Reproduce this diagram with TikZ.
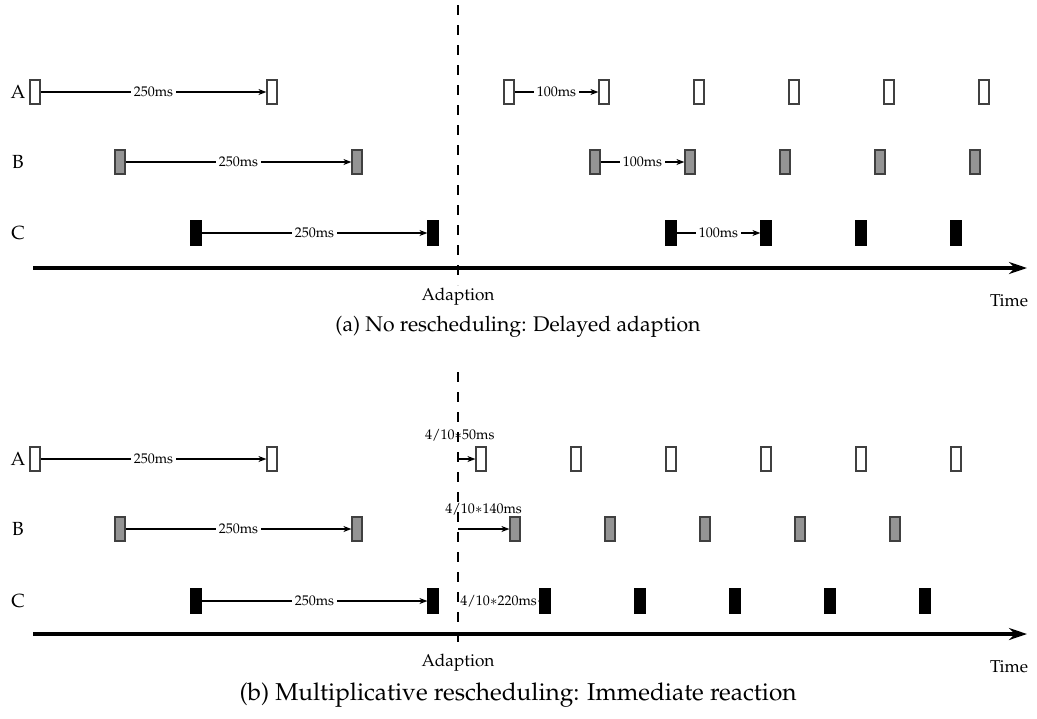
\documentclass[tikz,border=0pt]{standalone}
\usepackage[T1]{fontenc}
\usepackage{mathpazo}
\usetikzlibrary{arrows.meta}

\tikzset{
    slotA/.style={draw=black!75, line width=0.6pt, fill=white, minimum width=5pt, minimum height=12pt, inner sep=0pt},
    slotB/.style={slotA, fill=black!42},
    slotC/.style={slotA, draw=black, fill=black},
    period/.style={line width=0.9pt, -{Stealth[length=4pt,width=3pt]}},
    ms/.style={fill=white, inner sep=1.5pt, font=\fontsize{7}{8}\selectfont},
    rowname/.style={font=\fontsize{9.5}{11}\selectfont},
    timeline/.style={line width=2pt, -{Stealth[length=9pt,width=6pt]}},
    adapt/.style={line width=1pt, dash pattern=on 5pt off 5pt},
    axislabel/.style={font=\fontsize{8.6}{10}\selectfont},
    subcap/.style={font=\fontsize{10.6}{12}\selectfont}
}

\begin{document}
\begin{tikzpicture}[x=0.5pt, y=-0.5pt]
    \useasboundingbox (0,0) rectangle (1037,718);

    % (a) No rescheduling
    \draw[adapt] (458,5) -- (458,285);
    \coordinate (aStart) at (33,268);
    \coordinate (aEnd) at (1027,268);
    \draw[timeline] (aStart) -- (aEnd);
    % Below nodes are the labels.
        \node[rowname] (aLA) at (18,92) {A};
        \node[rowname] (aLB) at (18,162) {B};
        \node[rowname] (aLC) at (18,233) {C};
        \node[axislabel] (aAdapt) at (458,297) {Adaption};
        \node[axislabel] (aTime) at (1009,301) {Time};
        \node[subcap] (aCap) at (518,327) {(a) No rescheduling: Delayed adaption};
    % Task A
        \node[slotA] (aA1) at (35,92) {};
        \node[slotA] (aA2) at (272,92) {};
        \node[slotA] (aA3) at (509,92) {};
        \node[slotA] (aA4) at (604,92) {};
        \node[slotA] (aA5) at (699,92) {};
        \node[slotA] (aA6) at (794,92) {};
        \node[slotA] (aA7) at (889,92) {};
        \node[slotA] (aA8) at (984,92) {};
    % Task B
        \node[slotB] (aB1) at (120,162) {};
        \node[slotB] (aB2) at (357,162) {};
        \node[slotB] (aB3) at (595,162) {};
        \node[slotB] (aB4) at (690,162) {};
        \node[slotB] (aB5) at (785,162) {};
        \node[slotB] (aB6) at (880,162) {};
        \node[slotB] (aB7) at (975,162) {};
    % Task C
        \node[slotC] (aC1) at (196,233) {};
        \node[slotC] (aC2) at (433,233) {};
        \node[slotC] (aC3) at (671,233) {};
        \node[slotC] (aC4) at (766,233) {};
        \node[slotC] (aC5) at (861,233) {};
        \node[slotC] (aC6) at (956,233) {};
    % Periods
        \draw[period] (aA1.east) -- node[ms] {250ms} (aA2.west);
        \draw[period] (aB1.east) -- node[ms] {250ms} (aB2.west);
        \draw[period] (aC1.east) -- node[ms] {250ms} (aC2.west);
        \draw[period] (aA3.east) -- node[ms] {100ms} (aA4.west);
        \draw[period] (aB3.east) -- node[ms] {100ms} (aB4.west);
        \draw[period] (aC3.east) -- node[ms] {100ms} (aC4.west);

    % (b) Multiplicative rescheduling
    \draw[adapt] (458,372) -- (458,651);
    \coordinate (bStart) at (33,634);
    \coordinate (bEnd) at (1027,634);
    \draw[timeline] (bStart) -- (bEnd);
    \coordinate (bAdA) at (458,459);
    \coordinate (bAdB) at (458,529);
    \coordinate (bAdC) at (458,601);
    % Below nodes are the labels.
        \node[rowname] (bLA) at (18,459) {A};
        \node[rowname] (bLB) at (18,529) {B};
        \node[rowname] (bLC) at (18,601) {C};
        \node[axislabel] (bAdapt) at (458,663) {Adaption};
        \node[axislabel] (bTime) at (1009,667) {Time};
        \node[subcap, font=\fontsize{12.2}{14}\selectfont] (bCap) at (518,695) {(b) Multiplicative rescheduling: Immediate reaction};
    % Task A
        \node[slotA] (bA1) at (35,459) {};
        \node[slotA] (bA2) at (272,459) {};
        \node[slotA] (bA3) at (481,459) {};
        \node[slotA] (bA4) at (576,459) {};
        \node[slotA] (bA5) at (671,459) {};
        \node[slotA] (bA6) at (766,459) {};
        \node[slotA] (bA7) at (861,459) {};
        \node[slotA] (bA8) at (956,459) {};
    % Task B
        \node[slotB] (bB1) at (120,529) {};
        \node[slotB] (bB2) at (357,529) {};
        \node[slotB] (bB3) at (515,529) {};
        \node[slotB] (bB4) at (610,529) {};
        \node[slotB] (bB5) at (705,529) {};
        \node[slotB] (bB6) at (800,529) {};
        \node[slotB] (bB7) at (895,529) {};
    % Task C
        \node[slotC] (bC1) at (196,601) {};
        \node[slotC] (bC2) at (433,601) {};
        \node[slotC] (bC3) at (545,601) {};
        \node[slotC] (bC4) at (640,601) {};
        \node[slotC] (bC5) at (735,601) {};
        \node[slotC] (bC6) at (830,601) {};
        \node[slotC] (bC7) at (925,601) {};
    % Periods
        \draw[period] (bA1.east) -- node[ms] {250ms} (bA2.west);
        \draw[period] (bB1.east) -- node[ms] {250ms} (bB2.west);
        \draw[period] (bC1.east) -- node[ms] {250ms} (bC2.west);
        \draw[period] (bAdA) -- node[ms, pos=0.1, above=7pt, fill=none] {4/10$*$50ms} (bA3.west);
        \draw[period] (bAdB) -- node[ms, above=5pt, fill=none] {4/10$*$140ms} (bB3.west);
        \draw[period] (bAdC) -- node[ms, inner sep=0.5pt] {4/10$*$220ms} (bC3.west);
\end{tikzpicture}
\end{document}
